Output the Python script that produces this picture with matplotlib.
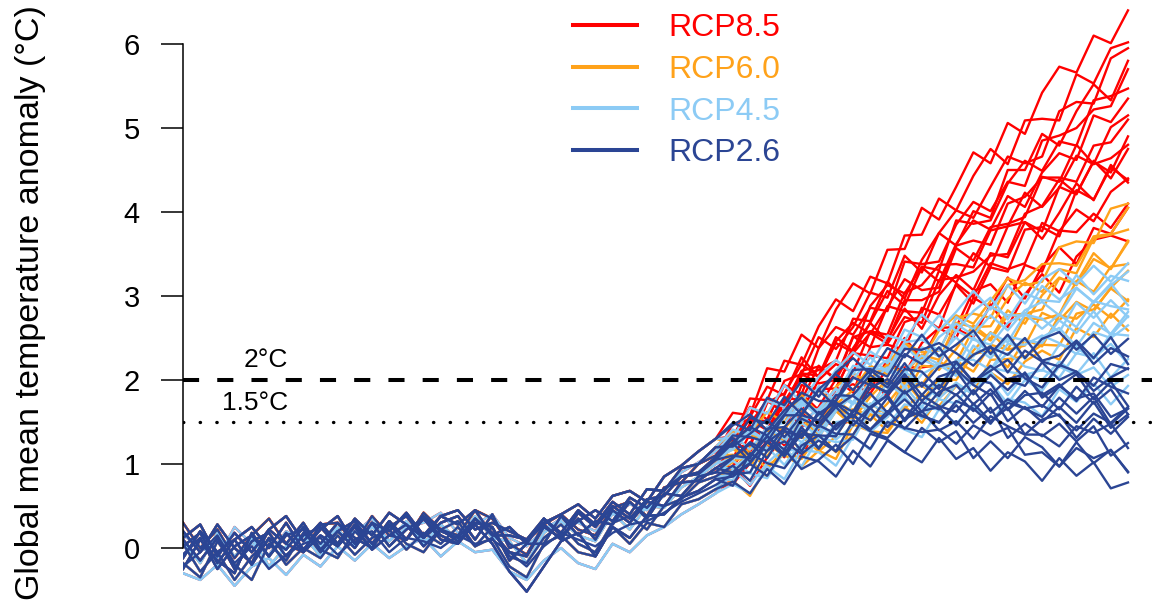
import numpy as np
import matplotlib
matplotlib.use("Agg")
import matplotlib.pyplot as plt
from matplotlib.lines import Line2D

plt.rcParams['font.family'] = ['Liberation Sans', 'DejaVu Sans']

# ---- data (4-year samples) ----
years_hist = np.arange(1880, 2005, 4)   # 1880..2004
years_fut = np.arange(2008, 2101, 4)    # 2008..2100

# historical runs (one per model)
hist = [
    [0.10,-0.15,0.12,-0.25,0.08,0.18,-0.10,0.15, 0.25,0.02,0.28,0.05,0.32,0.10,0.35,0.15,
     0.05,0.35,0.18,-0.05,-0.10,0.25,0.12,0.35, 0.10,0.45,0.30,0.55,0.50,0.78,0.80,0.95],
    [-0.12,0.20,-0.05,0.10,0.25,0.00,0.30,-0.02, 0.22,0.38,0.05,0.30,0.20,0.42,0.15,0.38,
     0.28,0.45,0.15,0.25,0.05,0.35,0.18,0.45, 0.28,0.55,0.40,0.70,0.68,0.95,1.00,1.20],
    [0.05,-0.28,-0.05,-0.38,-0.10,0.10,-0.20,0.00, -0.12,0.15,-0.08,0.12,0.22,-0.02,0.18,0.05,
     0.25,0.02,0.12,-0.22,-0.35,0.05,0.15,-0.05, -0.10,0.25,0.05,0.30,0.25,0.52,0.58,0.70],
    [0.20,-0.05,0.28,0.00,-0.18,0.22,0.05,0.30, -0.02,0.20,0.32,0.05,0.25,0.38,0.12,0.30,
     0.38,0.10,0.40,0.00,0.08,0.28,0.10,0.42, 0.25,0.50,0.35,0.58,0.62,0.85,0.88,1.05],
    [-0.25,0.10,-0.15,-0.30,0.18,-0.10,0.15,0.22, -0.05,0.20,0.00,0.30,0.02,0.22,0.35,0.10,
     0.05,0.30,0.25,-0.15,0.05,0.05,0.38,0.15, 0.32,0.28,0.55,0.35,0.65,0.62,0.85,0.90],
    [0.30,0.00,0.22,-0.12,0.15,0.35,0.05,-0.05, 0.28,0.30,0.05,0.38,0.15,0.10,0.42,0.22,
     0.15,0.45,0.35,0.05,-0.08,0.28,0.40,0.22, 0.15,0.48,0.55,0.38,0.72,0.78,1.00,1.10],
    [-0.18,-0.35,0.08,-0.20,-0.38,0.05,-0.15,0.18, -0.02,-0.12,0.20,0.00,0.28,0.05,-0.05,0.22,
     0.32,0.02,0.25,-0.10,-0.18,0.12,0.28,0.05, -0.05,0.30,0.38,0.22,0.50,0.58,0.78,0.85],
    [0.12,0.28,-0.10,0.18,-0.05,0.22,0.38,0.08, 0.30,0.05,0.35,0.15,0.42,0.28,0.12,0.38,
     0.45,0.22,0.30,0.20,0.10,0.30,0.40,0.52, 0.35,0.62,0.68,0.55,0.85,0.98,1.15,1.30],
    [-0.30,-0.38,-0.20,-0.45,-0.22,-0.12,-0.32,-0.08, -0.22,0.02,-0.15,0.05,-0.12,0.02,0.12,-0.10,
     0.08,-0.05,-0.02,-0.28,-0.38,-0.15,0.00,-0.18, -0.25,0.05,-0.05,0.15,0.25,0.40,0.52,0.65],
    [0.08,-0.18,0.18,-0.10,0.12,-0.22,0.02,0.15, -0.10,0.22,0.02,0.25,0.08,0.32,0.05,0.28,
     0.10,0.38,0.12,0.08,-0.18,0.18,0.32,0.15, 0.08,0.42,0.22,0.50,0.48,0.72,0.85,1.00],
    [0.02,0.18,-0.18,0.10,-0.20,0.12,-0.02,0.25, 0.05,0.30,0.12,0.00,0.32,0.10,0.38,0.20,
     0.12,0.35,0.15,0.15,0.10,0.35,0.15,0.32, 0.45,0.32,0.60,0.48,0.70,0.85,0.90,1.08],
    [-0.08,0.12,-0.25,0.02,0.15,-0.10,0.18,-0.05, 0.15,0.02,0.25,-0.02,0.15,0.28,0.02,0.22,
     0.08,0.28,0.05,-0.28,-0.52,-0.22,0.08,0.18, -0.10,0.25,0.12,0.38,0.40,0.60,0.68,0.82],
    [0.15,0.02,-0.12,0.25,0.05,-0.08,0.20,0.10, 0.02,0.25,0.18,0.35,0.08,0.25,0.30,0.42,
     0.18,0.28,0.40,0.12,0.02,0.22,0.35,0.30, 0.20,0.40,0.52,0.45,0.62,0.90,1.02,1.15],
    [-0.22,-0.05,0.15,-0.18,0.02,-0.25,-0.08,0.05, 0.12,-0.08,0.10,0.20,-0.05,0.12,0.08,0.00,
     0.15,0.05,0.10,-0.05,-0.22,0.02,0.18,0.10, 0.02,0.18,0.28,0.32,0.42,0.55,0.65,0.75],
]

# scenario runs: index of the historical run they continue, then 2008..2100
rcp85_base = [7, 1, 5, 3, 10, 0, 7, 4, 1, 6, 9, 2, 11, 8, 3, 5, 12, 0]
rcp85 = [
    [1.61,1.58,2.14,2.10,2.54,2.38,2.84,3.15,3.03,3.55,3.56,4.05, 3.91,4.30,4.71,4.58,5.06,4.93,5.42,5.73,5.66,6.10,6.01,6.40],
    [1.28,1.78,1.76,2.23,2.18,2.64,2.96,2.82,3.23,3.15,3.72,3.73, 4.16,4.02,4.43,4.75,4.57,5.09,5.11,5.09,5.64,5.53,5.95,6.02],
    [1.48,1.53,1.51,1.99,2.07,2.51,2.37,2.63,3.04,2.98,3.48,3.28, 3.75,4.02,3.93,4.30,4.66,4.58,4.66,5.20,5.31,5.29,5.83,5.95],
    [1.19,1.23,1.73,1.84,2.19,2.04,2.44,2.33,2.88,3.13,3.03,3.35, 3.31,3.90,3.86,3.90,4.34,4.61,4.49,4.84,4.79,5.33,5.38,5.47],
    [1.06,1.48,1.76,1.60,2.08,2.05,2.51,2.34,2.68,3.06,2.89,3.34, 3.17,3.62,3.90,3.79,4.19,4.06,4.47,4.70,4.62,5.15,5.07,5.35],
    [0.97,1.36,1.25,1.79,1.76,2.17,2.00,2.38,2.68,2.46,2.95,2.95, 3.05,3.57,3.42,3.82,3.86,3.94,4.42,4.36,4.80,4.57,5.01,5.15],
    [1.33,1.56,1.92,1.82,2.27,2.03,2.46,2.68,2.55,2.87,3.20,3.07, 3.10,3.60,3.66,3.61,4.10,4.18,4.41,4.41,4.36,4.79,4.83,5.10],
    [1.26,1.15,1.44,1.38,1.94,1.89,1.90,2.32,2.56,2.43,2.75,2.68, 3.19,3.22,3.29,3.48,3.50,3.98,4.07,4.39,4.22,4.60,4.47,4.90],
    [1.40,1.31,1.76,1.68,2.11,2.16,2.02,2.52,2.39,2.88,2.82,2.80, 3.30,3.16,3.51,3.35,3.83,3.88,3.77,4.30,4.21,4.61,4.40,4.75],
    [0.97,1.25,1.19,1.66,1.46,1.68,2.01,1.85,2.39,2.42,2.36,2.86, 2.78,3.13,2.91,3.34,3.29,3.79,3.82,3.71,4.26,4.15,4.53,4.38],
    [1.24,1.46,1.26,1.61,1.84,1.64,1.90,2.32,2.29,2.26,2.69,2.76, 2.61,3.15,2.99,3.39,3.32,3.39,3.87,3.77,4.03,3.89,4.24,4.40],
    [0.76,1.01,1.28,1.08,1.46,1.44,1.89,1.95,1.84,2.14,2.50,2.25, 2.62,2.63,3.06,3.14,2.92,3.37,3.29,3.78,3.76,3.98,3.81,4.10],
    [0.80,1.10,1.43,1.22,1.62,1.40,1.81,2.04,1.89,2.24,2.07,2.44, 2.62,2.50,2.98,2.86,3.22,2.97,3.35,3.58,3.38,3.81,3.74,4.05],
    [0.96,0.74,1.08,1.33,1.07,1.51,1.46,1.52,1.99,1.80,2.15,2.15, 2.18,2.61,2.51,2.90,2.63,3.02,3.26,3.04,3.47,3.67,3.72,3.65],
    [1.29,1.53,1.40,1.74,2.07,1.96,2.00,2.51,2.58,2.54,3.04,3.13, 3.37,3.38,3.34,3.78,3.83,4.23,4.06,4.29,4.67,4.57,4.64,4.80],
    [1.33,1.68,1.53,1.94,1.83,2.38,2.63,2.54,2.86,2.82,3.41,3.38, 3.41,3.85,4.12,4.01,4.36,4.31,4.85,4.91,5.00,5.22,5.26,5.70],
    [1.30,1.55,1.41,1.78,1.62,2.00,2.19,2.09,2.58,2.48,2.85,2.61, 3.01,3.25,3.07,3.51,3.46,3.88,3.68,3.99,4.34,4.14,4.56,4.35],
    [1.07,1.20,1.75,1.63,2.05,2.12,2.23,2.73,2.70,3.17,2.97,3.43, 3.75,3.60,4.01,3.93,4.50,4.50,4.93,4.79,5.20,5.52,5.33,5.80],
]

rcp60_base = [1, 5, 3, 0, 4, 10, 6, 9, 7, 2]
rcp60 = [
    [1.39,1.35,1.27,1.58,1.58,1.88,1.71,1.88,2.17,2.07,2.43,2.24, 2.59,2.77,2.67,2.94,3.21,3.13,3.17,3.58,3.65,3.63,4.04,4.10],
    [1.11,1.06,1.40,1.42,1.65,1.48,1.75,1.62,2.02,2.18,2.08,2.30, 2.24,2.68,2.63,2.64,2.97,3.16,3.05,3.32,3.27,3.69,3.73,3.79],
    [1.18,1.04,1.40,1.28,1.55,1.34,1.64,1.82,1.66,2.00,1.95,2.28, 2.12,2.37,2.65,2.49,2.83,2.67,3.01,3.22,3.13,3.44,3.33,3.64],
    [0.90,1.20,1.09,1.39,1.15,1.44,1.63,1.45,1.72,1.59,1.99,1.94, 2.23,2.07,2.35,2.57,2.36,2.74,2.72,2.78,3.18,3.05,3.35,3.38],
    [1.02,1.14,0.94,1.18,1.33,1.15,1.33,1.64,1.59,1.56,1.89,1.93, 1.81,2.23,2.10,2.42,2.36,2.41,2.80,2.71,2.93,2.82,3.10,3.30],
    [1.06,1.18,1.34,1.12,1.38,1.32,1.63,1.65,1.52,1.72,1.98,1.75, 2.01,2.00,2.31,2.35,2.15,2.48,2.40,2.77,2.73,2.90,2.74,2.96],
    [0.93,1.05,0.85,1.15,1.06,1.35,1.14,1.35,1.59,1.39,1.69,1.49, 1.79,1.96,1.83,2.09,1.95,2.22,2.35,2.24,2.62,2.51,2.79,2.59],
    [1.21,0.99,1.24,1.10,1.48,1.42,1.70,1.53,1.80,2.01,1.80,2.17, 2.15,2.21,2.61,2.47,2.77,2.79,2.84,3.21,3.16,3.51,3.32,3.66],
    [1.25,1.37,1.62,1.50,1.82,1.60,1.92,2.08,1.95,2.19,2.44,2.33, 2.35,2.74,2.79,2.74,3.13,3.19,3.38,3.39,3.36,3.71,3.74,4.05],
    [0.80,0.62,0.98,1.11,0.97,1.16,1.06,1.47,1.39,1.37,1.67,1.83, 1.69,1.93,1.85,2.24,2.25,2.28,2.42,2.41,2.79,2.84,3.09,2.94],
]

rcp45_base = [1, 7, 8, 9, 3, 12, 0, 4, 8, 10, 9, 6, 11, 2]
rcp45 = [
    [1.41,1.34,1.75,1.68,1.99,1.81,2.12,2.33,2.18,2.53,2.47,2.78, 2.59,2.81,3.06,2.84,3.13,2.91,3.20,3.32,3.14,3.36,3.17,3.39],
    [1.31,1.67,1.60,1.94,1.73,2.04,2.24,2.07,2.34,2.20,2.60,2.51, 2.77,2.58,2.82,2.98,2.72,3.03,2.95,2.93,3.25,3.02,3.24,3.18],
    [0.90,0.89,0.83,1.16,1.17,1.48,1.29,1.46,1.72,1.60,1.93,1.68, 1.97,2.10,1.94,2.13,2.32,2.16,2.11,2.42,2.38,2.25,2.55,2.53],
    [1.07,1.07,1.44,1.49,1.73,1.57,1.84,1.71,2.10,2.24,2.12,2.29, 2.19,2.59,2.48,2.42,2.68,2.79,2.61,2.78,2.63,2.94,2.88,2.84],
    [1.21,1.41,1.27,1.63,1.59,1.93,1.75,2.01,2.27,2.09,2.41,2.21, 2.51,2.67,2.53,2.77,2.59,2.83,2.93,2.77,3.09,2.93,3.15,2.89],
    [1.36,1.17,1.44,1.30,1.70,1.64,1.90,1.72,1.97,2.15,1.91,2.24, 2.16,2.16,2.51,2.30,2.52,2.47,2.44,2.71,2.56,2.82,2.53,2.76],
    [0.95,1.10,1.37,1.25,1.59,1.37,1.67,1.82,1.67,1.88,2.10,1.95, 1.91,2.24,2.24,2.12,2.43,2.42,2.53,2.44,2.31,2.57,2.50,2.65],
    [1.04,0.89,1.26,1.40,1.26,1.44,1.33,1.74,1.63,1.58,1.85,1.96, 1.78,1.97,1.83,2.15,2.10,2.06,2.12,2.03,2.32,2.27,2.43,2.19],
    [0.76,0.65,0.97,0.82,1.17,1.14,0.98,1.33,1.17,1.51,1.41,1.32, 1.65,1.48,1.69,1.48,1.78,1.73,1.57,1.89,1.74,1.96,1.71,1.93],
    [1.17,1.37,1.30,1.66,1.49,1.66,1.89,1.73,2.14,2.13,2.05,2.39, 2.28,2.51,2.28,2.56,2.45,2.78,2.73,2.57,2.92,2.74,2.95,2.75],
    [1.21,1.40,1.26,1.56,1.76,1.61,1.82,2.17,2.14,2.12,2.45,2.48, 2.35,2.75,2.60,2.87,2.77,2.77,3.12,2.96,3.10,2.92,3.13,3.29],
    [0.87,1.02,1.20,0.99,1.26,1.20,1.50,1.52,1.38,1.56,1.81,1.54, 1.77,1.72,1.99,1.97,1.72,2.00,1.87,2.16,2.06,2.15,1.92,2.06],
    [0.81,1.06,1.33,1.16,1.49,1.32,1.63,1.82,1.69,1.96,1.81,2.07, 2.18,2.05,2.41,2.26,2.50,2.25,2.51,2.62,2.40,2.68,2.55,2.81],
    [0.93,0.75,1.01,1.20,0.97,1.32,1.26,1.29,1.64,1.46,1.71,1.67, 1.65,1.95,1.83,2.10,1.82,2.07,2.00,2.22,2.07,2.32,2.03,2.25],
]

rcp26_base = [7, 1, 5, 3, 0, 10, 4, 6, 2, 11, 7, 1, 0, 3, 10, 11, 4, 13]
rcp26 = [
    [1.49,1.40,1.79,1.70,1.99,1.80,2.09,2.26,2.07,2.38,2.27,2.54, 2.28,2.42,2.59,2.31,2.54,2.26,2.49,2.57,2.36,2.54,2.31,2.49],
    [1.21,1.55,1.48,1.80,1.59,1.89,2.07,1.88,2.12,1.95,2.31,2.19, 2.39,2.12,2.30,2.40,2.09,2.35,2.22,2.16,2.45,2.19,2.38,2.28],
    [1.34,1.32,1.26,1.58,1.58,1.88,1.68,1.82,2.06,1.91,2.20,1.92, 2.16,2.22,1.98,2.11,2.24,2.02,1.91,2.18,2.10,1.93,2.19,2.13],
    [1.10,1.07,1.42,1.44,1.66,1.48,1.72,1.55,1.91,2.01,1.84,1.97, 1.81,2.13,1.94,1.82,2.01,2.07,1.82,1.95,1.75,2.03,1.92,1.84],
    [1.08,1.24,1.07,1.39,1.32,1.62,1.41,1.62,1.84,1.61,1.87,1.62, 1.86,1.94,1.71,1.89,1.64,1.82,1.85,1.65,1.92,1.72,1.89,1.59],
    [1.31,1.09,1.33,1.17,1.54,1.44,1.68,1.46,1.68,1.82,1.53,1.82, 1.69,1.62,1.88,1.61,1.77,1.66,1.56,1.79,1.60,1.80,1.47,1.66],
    [0.88,1.01,1.26,1.12,1.44,1.19,1.47,1.59,1.41,1.59,1.77,1.58, 1.49,1.75,1.66,1.48,1.73,1.66,1.70,1.57,1.40,1.60,1.49,1.68],
    [0.98,0.80,1.16,1.27,1.12,1.28,1.15,1.52,1.39,1.31,1.54,1.63, 1.40,1.51,1.30,1.57,1.45,1.35,1.35,1.21,1.45,1.37,1.48,1.19],
    [0.79,0.65,0.94,0.76,1.09,1.03,0.85,1.16,0.97,1.28,1.14,1.02, 1.31,1.06,1.19,0.92,1.14,1.03,0.80,1.07,0.86,1.02,0.71,0.78],
    [0.85,1.00,0.86,1.17,0.94,1.05,1.23,1.00,1.36,1.29,1.14,1.43, 1.26,1.39,1.07,1.27,1.07,1.32,1.20,0.97,1.26,1.01,1.17,0.90],
    [1.46,1.59,1.40,1.64,1.79,1.59,1.75,2.03,1.94,1.86,2.13,2.10, 1.89,2.21,1.97,2.17,2.00,1.93,2.21,2.00,2.10,1.87,2.03,2.14],
    [1.21,1.36,1.53,1.32,1.58,1.52,1.82,1.81,1.66,1.82,2.04,1.75, 1.94,1.82,2.02,1.96,1.65,1.87,1.68,1.93,1.78,1.84,1.56,1.66],
    [0.90,1.10,1.33,1.11,1.40,1.18,1.45,1.58,1.41,1.63,1.42,1.63, 1.68,1.46,1.72,1.51,1.67,1.35,1.53,1.59,1.31,1.54,1.36,1.56],
    [1.25,1.03,1.26,1.41,1.15,1.46,1.36,1.35,1.67,1.44,1.65,1.57, 1.50,1.70,1.49,1.67,1.31,1.48,1.33,1.48,1.27,1.45,1.10,1.25],
    [1.26,1.44,1.34,1.59,1.85,1.75,1.75,2.12,2.13,2.04,2.37,2.36, 2.44,2.32,2.17,2.39,2.30,2.50,2.23,2.29,2.47,2.26,2.51,2.19],
    [0.74,1.13,1.01,0.95,1.22,1.34,1.15,1.33,1.18,1.50,1.43,1.38, 1.41,1.24,1.46,1.34,1.43,1.11,1.14,0.97,1.19,1.07,1.16,0.91],
    [1.07,1.26,1.15,1.44,1.31,1.60,1.73,1.62,1.97,1.84,2.07,1.82, 2.04,2.11,1.83,2.06,1.88,2.09,1.79,1.92,2.07,1.77,1.98,1.69],
    [0.88,0.90,1.27,1.09,1.36,1.34,1.33,1.64,1.52,1.79,1.51,1.74, 1.65,1.83,1.63,1.84,1.51,1.68,1.50,1.68,1.49,1.74,1.43,1.59],
]

labels = ['RCP8.5', 'RCP6.0', 'RCP4.5', 'RCP2.6']
colors = ['#FF0000', '#FFA21A', '#8CCBF5', '#2B4594']

# ---- plot ----
fig = plt.figure(figsize=(11.74, 6.02), dpi=100)
ax = fig.add_axes([0.1559, -0.001, 0.8254, 0.9907])

years = np.concatenate([years_hist, years_fut])
for runs, bases, col in [(rcp85, rcp85_base, colors[0]), (rcp60, rcp60_base, colors[1]),
                         (rcp45, rcp45_base, colors[2]), (rcp26, rcp26_base, colors[3])]:
    for fut, b in zip(runs, bases):
        ax.plot(years, np.concatenate([hist[b], fut]), color=col, lw=1.7)

ax.axhline(2.0, color='black', lw=2.9, linestyle=(0, (4, 4.5)))
ax.axhline(1.5, color='black', lw=2.4, linestyle=(0, (0.1, 4.9)), dash_capstyle='round')
ax.text(1904.5, 2.24, '2°C', ha='right', va='center', fontsize=19)
ax.text(1904.5, 1.73, '1.5°C', ha='right', va='center', fontsize=19)

ax.set_xlim(1880, 2105.6)
ax.set_ylim(-0.65, 6.45)
ax.set_yticks(range(0, 7))
ax.set_xticks([])
for s in ['top', 'right', 'bottom']:
    ax.spines[s].set_visible(False)
ax.spines['left'].set_bounds(0, 6)
ax.spines['left'].set_linewidth(1.1)
ax.tick_params(axis='y', length=16, width=1.1, pad=15, labelsize=21)

fig.text(31 / 1174, 0.497, 'Global mean temperature anomaly (°C)', rotation=90,
         ha='center', va='center', fontsize=24.5)

handles = [Line2D([], [], color=c, lw=2.9) for c in colors]
ax.legend(handles, labels, loc='upper left', bbox_to_anchor=(573 / 1174, 1 - 13 / 602),
          bbox_transform=fig.transFigure, frameon=False, fontsize=23,
          handlelength=2.0, handletextpad=1.0, labelspacing=0.37, borderpad=0,
          borderaxespad=0, labelcolor='linecolor')

fig.savefig('out.png', dpi=100)
